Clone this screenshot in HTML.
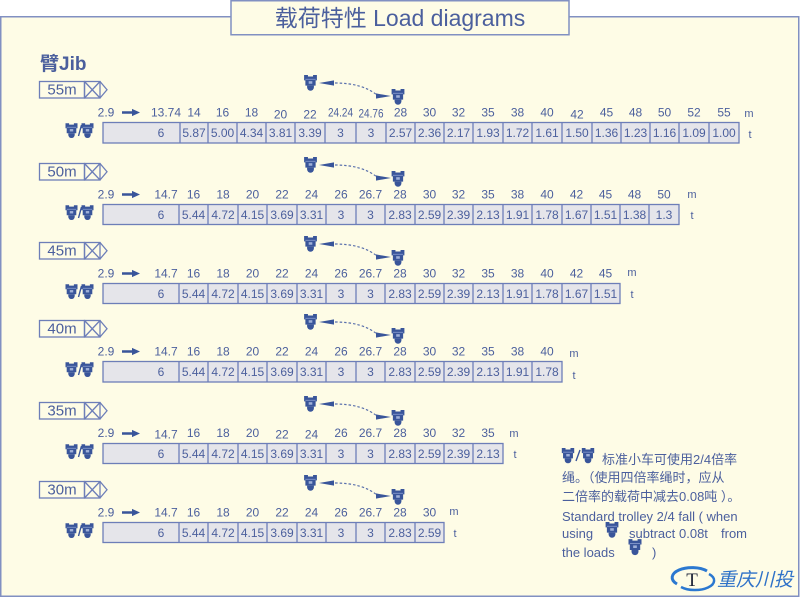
<!DOCTYPE html>
<html><head><meta charset="utf-8"><style>
html,body{margin:0;padding:0;background:#fff;width:800px;height:598px;overflow:hidden}
svg{display:block}
text{font-family:"Liberation Sans","Noto Sans CJK SC",sans-serif;fill:#4b5f9d}
.c{font-size:12px;text-anchor:middle}
.s{font-size:11px;text-anchor:middle}
.j{font-size:15px;text-anchor:middle}
.ln{fill:none;stroke:#6d7eb8;stroke-width:1.3}
.cell{fill:#e5e5ea;stroke:#6d7eb8;stroke-width:1.3}
.ic{fill:#39559a}
.ds{fill:none;stroke:#5a70ac;stroke-width:1.2;stroke-dasharray:2.5 2}
.cn{font-size:13px}
</style></head><body>
<svg width="800" height="598" viewBox="0 0 800 598" xmlns="http://www.w3.org/2000/svg">
<defs>
<symbol id="tr" viewBox="0 0 12 15">
<path fill="#39559a" d="M0,0h3.6v1.4h4.8V0H12v5H10.8V10H1.2V5H0z"/>
<path fill="#39559a" d="M2.8,10h6.4v1.6a3.2,3.2 0 0 1-6.4,0z"/>
<rect x="4.3" y="5.8" width="3.4" height="2.4" fill="#9fb0d8"/>
<rect x="1.2" y="3.6" width="9.6" height="0.9" fill="#7f93c8"/>
</symbol>
<g id="trl">
<use href="#tr" x="304" y="-47" width="13" height="16"/>
<polygon class="ic" points="319,-39 334,-41.6 334,-36.4"/>
<path class="ds" d="M335,-39 Q362,-39 377,-27"/>
<polygon class="ic" points="391,-26 376,-28.6 376,-23.4"/>
<use href="#tr" x="391.5" y="-33" width="13" height="16"/>
</g>
<g id="dbl">
<use href="#tr" x="65.5" y="1" width="12" height="15.5"/>
<line x1="78.5" y1="14" x2="81.5" y2="3" stroke="#39559a" stroke-width="1.4"/>
<use href="#tr" x="81.5" y="1" width="12" height="15.5"/>
</g>
<g id="jb">
<rect class="ln" x="84.5" y="-40.5" width="15.5" height="16.5"/>
<path class="ln" d="M84.5,-40.5L100,-24M84.5,-24L100,-40.5"/>
<polyline class="ln" points="100,-40.5 107,-32.25 100,-24"/>
<rect class="ln" x="39.5" y="-40.5" width="45" height="16.5"/>
</g>
<path id="arr" class="ic" d="M122,-10.7h10v-2.4l8,3.6l-8,3.6v-2.4h-10z"/>
</defs>

<!-- panel -->
<rect x="0.75" y="16.75" width="798" height="579.5" fill="#fefce6" stroke="#8190c2" stroke-width="1.5"/>
<rect x="231" y="0.75" width="338" height="34" fill="#fefce6" stroke="#8190c2" stroke-width="1.5"/>
<text x="400" y="26" font-size="23" text-anchor="middle">载荷特性 Load diagrams</text>
<text x="40" y="70" font-size="19" font-weight="bold">臂Jib</text>

<!-- 55m -->
<g transform="translate(0,122)">
<use href="#jb"/><text class="j" x="62" y="-27.5">55m</text>
<use href="#trl"/>
<use href="#arr"/>
<use href="#dbl"/>
<text class="c" y="-5.5"><tspan x="106" y="-5.5">2.9</tspan><tspan x="166" y="-5.5">13.74</tspan><tspan x="194" y="-5.5">14</tspan><tspan x="222.5" y="-5.5">16</tspan><tspan x="251.5" y="-5.5">18</tspan><tspan x="280.5" y="-3.5">20</tspan><tspan x="310" y="-3.5">22</tspan></text>
<text class="c" x="340.5" y="-5.5" textLength="25" lengthAdjust="spacingAndGlyphs">24.24</text>
<text class="c" x="371" y="-4.5" textLength="25" lengthAdjust="spacingAndGlyphs">24.76</text>
<text class="c" y="-5.5"><tspan x="400.5" y="-5.5">28</tspan><tspan x="429.5" y="-5.5">30</tspan><tspan x="458.5" y="-5.5">32</tspan><tspan x="488" y="-5.5">35</tspan><tspan x="517.5" y="-5.5">38</tspan><tspan x="547" y="-5.5">40</tspan><tspan x="577" y="-3.5">42</tspan><tspan x="606.5" y="-5.5">45</tspan><tspan x="635.5" y="-5.5">48</tspan><tspan x="664.5" y="-5.5">50</tspan><tspan x="694" y="-5.5">52</tspan><tspan x="724" y="-5.5">55</tspan></text>
<text class="s" x="749" y="-5">m</text>
<rect class="cell" x="103" y="0.5" width="636" height="20.5"/>
<path class="ln" d="M180,.5v20.5M208,.5v20.5M237,.5v20.5M266,.5v20.5M295,.5v20.5M325,.5v20.5M356,.5v20.5M386,.5v20.5M415,.5v20.5M444,.5v20.5M473,.5v20.5M503,.5v20.5M532,.5v20.5M562,.5v20.5M592,.5v20.5M621,.5v20.5M650,.5v20.5M679,.5v20.5M709,.5v20.5"/>
<text class="c" y="15"><tspan x="161">6</tspan><tspan x="194">5.87</tspan><tspan x="222.5">5.00</tspan><tspan x="251.5">4.34</tspan><tspan x="280.5">3.81</tspan><tspan x="310">3.39</tspan><tspan x="340.5">3</tspan><tspan x="371">3</tspan><tspan x="400.5">2.57</tspan><tspan x="429.5">2.36</tspan><tspan x="458.5">2.17</tspan><tspan x="488">1.93</tspan><tspan x="517.5">1.72</tspan><tspan x="547">1.61</tspan><tspan x="577">1.50</tspan><tspan x="606.5">1.36</tspan><tspan x="635.5">1.23</tspan><tspan x="664.5">1.16</tspan><tspan x="694">1.09</tspan><tspan x="724">1.00</tspan></text>
<text class="s" x="750" y="16">t</text>
</g>

<!-- 50m -->
<g transform="translate(0,204)">
<use href="#jb"/><text class="j" x="62" y="-27.5">50m</text>
<use href="#trl"/>
<use href="#arr"/>
<use href="#dbl"/>
<text class="c" y="-5.5"><tspan x="106">2.9</tspan><tspan x="166">14.7</tspan><tspan x="193.5">16</tspan><tspan x="223">18</tspan><tspan x="252.5">20</tspan><tspan x="282">22</tspan><tspan x="311.5">24</tspan><tspan x="341">26</tspan><tspan x="370.5">26.7</tspan><tspan x="400">28</tspan><tspan x="429.5">30</tspan><tspan x="458.5">32</tspan><tspan x="488">35</tspan><tspan x="517.5">38</tspan><tspan x="547">40</tspan><tspan x="576.5">42</tspan><tspan x="605.5">45</tspan><tspan x="634.5">48</tspan><tspan x="664">50</tspan></text>
<text class="s" x="692" y="-6">m</text>
<rect class="cell" x="103" y="0.5" width="576" height="20"/>
<path class="ln" d="M179,.5v20M208,.5v20M238,.5v20M267,.5v20M297,.5v20M326,.5v20M356,.5v20M385,.5v20M415,.5v20M444,.5v20M473,.5v20M503,.5v20M532,.5v20M562,.5v20M591,.5v20M620,.5v20M649,.5v20"/>
<text class="c" y="14.8"><tspan x="161">6</tspan><tspan x="193.5">5.44</tspan><tspan x="223">4.72</tspan><tspan x="252.5">4.15</tspan><tspan x="282">3.69</tspan><tspan x="311.5">3.31</tspan><tspan x="341">3</tspan><tspan x="370.5">3</tspan><tspan x="400">2.83</tspan><tspan x="429.5">2.59</tspan><tspan x="458.5">2.39</tspan><tspan x="488">2.13</tspan><tspan x="517.5">1.91</tspan><tspan x="547">1.78</tspan><tspan x="576.5">1.67</tspan><tspan x="605.5">1.51</tspan><tspan x="634.5">1.38</tspan><tspan x="664">1.3</tspan></text>
<text class="s" x="692" y="15">t</text>
</g>

<!-- 45m -->
<g transform="translate(0,283)">
<use href="#jb"/><text class="j" x="62" y="-27.5">45m</text>
<use href="#trl"/>
<use href="#arr"/>
<use href="#dbl"/>
<text class="c" y="-5.5"><tspan x="106">2.9</tspan><tspan x="166">14.7</tspan><tspan x="193.5">16</tspan><tspan x="223">18</tspan><tspan x="252.5">20</tspan><tspan x="282">22</tspan><tspan x="311.5">24</tspan><tspan x="341">26</tspan><tspan x="370.5">26.7</tspan><tspan x="400">28</tspan><tspan x="429.5">30</tspan><tspan x="458.5">32</tspan><tspan x="488">35</tspan><tspan x="517.5">38</tspan><tspan x="547">40</tspan><tspan x="576.5">42</tspan><tspan x="605.5">45</tspan></text>
<text class="s" x="632" y="-7">m</text>
<rect class="cell" x="103" y="0.5" width="517" height="20"/>
<path class="ln" d="M179,.5v20M208,.5v20M238,.5v20M267,.5v20M297,.5v20M326,.5v20M356,.5v20M385,.5v20M415,.5v20M444,.5v20M473,.5v20M503,.5v20M532,.5v20M562,.5v20M591,.5v20"/>
<text class="c" y="14.8"><tspan x="161">6</tspan><tspan x="193.5">5.44</tspan><tspan x="223">4.72</tspan><tspan x="252.5">4.15</tspan><tspan x="282">3.69</tspan><tspan x="311.5">3.31</tspan><tspan x="341">3</tspan><tspan x="370.5">3</tspan><tspan x="400">2.83</tspan><tspan x="429.5">2.59</tspan><tspan x="458.5">2.39</tspan><tspan x="488">2.13</tspan><tspan x="517.5">1.91</tspan><tspan x="547">1.78</tspan><tspan x="576.5">1.67</tspan><tspan x="605.5">1.51</tspan></text>
<text class="s" x="632" y="15">t</text>
</g>

<!-- 40m -->
<g transform="translate(0,361)">
<use href="#jb"/><text class="j" x="62" y="-27.5">40m</text>
<use href="#trl"/>
<use href="#arr"/>
<use href="#dbl"/>
<text class="c" y="-5.5"><tspan x="106">2.9</tspan><tspan x="166">14.7</tspan><tspan x="193.5">16</tspan><tspan x="223">18</tspan><tspan x="252.5">20</tspan><tspan x="282">22</tspan><tspan x="311.5">24</tspan><tspan x="341">26</tspan><tspan x="370.5">26.7</tspan><tspan x="400">28</tspan><tspan x="429.5">30</tspan><tspan x="458.5">32</tspan><tspan x="488">35</tspan><tspan x="517.5">38</tspan><tspan x="547">40</tspan></text>
<text class="s" x="574" y="-4">m</text>
<rect class="cell" x="103" y="0.5" width="459" height="20.5"/>
<path class="ln" d="M179,.5v20.5M208,.5v20.5M238,.5v20.5M267,.5v20.5M297,.5v20.5M326,.5v20.5M356,.5v20.5M385,.5v20.5M415,.5v20.5M444,.5v20.5M473,.5v20.5M503,.5v20.5M532,.5v20.5"/>
<text class="c" y="15"><tspan x="161">6</tspan><tspan x="193.5">5.44</tspan><tspan x="223">4.72</tspan><tspan x="252.5">4.15</tspan><tspan x="282">3.69</tspan><tspan x="311.5">3.31</tspan><tspan x="341">3</tspan><tspan x="370.5">3</tspan><tspan x="400">2.83</tspan><tspan x="429.5">2.59</tspan><tspan x="458.5">2.39</tspan><tspan x="488">2.13</tspan><tspan x="517.5">1.91</tspan><tspan x="547">1.78</tspan></text>
<text class="s" x="574" y="18">t</text>
</g>

<!-- 35m -->
<g transform="translate(0,443)">
<use href="#jb"/><text class="j" x="62" y="-27.5">35m</text>
<use href="#trl"/>
<use href="#arr"/>
<use href="#dbl"/>
<text class="c" y="-5.5"><tspan x="106" y="-6">2.9</tspan><tspan x="166" y="-4.5">14.7</tspan><tspan x="193.5" y="-6">16</tspan><tspan x="223" y="-6">18</tspan><tspan x="252.5" y="-6">20</tspan><tspan x="282" y="-4.5">22</tspan><tspan x="311.5" y="-4.5">24</tspan><tspan x="341" y="-6">26</tspan><tspan x="370.5" y="-6">26.7</tspan><tspan x="400" y="-6">28</tspan><tspan x="429.5" y="-6">30</tspan><tspan x="458.5" y="-6">32</tspan><tspan x="488" y="-6">35</tspan></text>
<text class="s" x="514" y="-6">m</text>
<rect class="cell" x="103" y="0.5" width="400" height="20"/>
<path class="ln" d="M179,.5v20M208,.5v20M238,.5v20M267,.5v20M297,.5v20M326,.5v20M356,.5v20M385,.5v20M415,.5v20M444,.5v20M473,.5v20"/>
<text class="c" y="14.8"><tspan x="161">6</tspan><tspan x="193.5">5.44</tspan><tspan x="223">4.72</tspan><tspan x="252.5">4.15</tspan><tspan x="282">3.69</tspan><tspan x="311.5">3.31</tspan><tspan x="341">3</tspan><tspan x="370.5">3</tspan><tspan x="400">2.83</tspan><tspan x="429.5">2.59</tspan><tspan x="458.5">2.39</tspan><tspan x="488">2.13</tspan></text>
<text class="s" x="515" y="15">t</text>
</g>

<!-- 30m -->
<g transform="translate(0,522)">
<use href="#jb"/><text class="j" x="62" y="-27.5">30m</text>
<use href="#trl"/>
<use href="#arr"/>
<use href="#dbl"/>
<text class="c" y="-5.5"><tspan x="106">2.9</tspan><tspan x="166">14.7</tspan><tspan x="193.5">16</tspan><tspan x="223">18</tspan><tspan x="252.5">20</tspan><tspan x="282">22</tspan><tspan x="311.5">24</tspan><tspan x="341">26</tspan><tspan x="370.5">26.7</tspan><tspan x="400">28</tspan><tspan x="429.5">30</tspan></text>
<text class="s" x="454" y="-7">m</text>
<rect class="cell" x="103" y="0.5" width="341" height="20"/>
<path class="ln" d="M179,.5v20M208,.5v20M238,.5v20M267,.5v20M297,.5v20M326,.5v20M356,.5v20M385,.5v20M415,.5v20"/>
<text class="c" y="14.8"><tspan x="161">6</tspan><tspan x="193.5">5.44</tspan><tspan x="223">4.72</tspan><tspan x="252.5">4.15</tspan><tspan x="282">3.69</tspan><tspan x="311.5">3.31</tspan><tspan x="341">3</tspan><tspan x="370.5">3</tspan><tspan x="400">2.83</tspan><tspan x="429.5">2.59</tspan></text>
<text class="s" x="455" y="15">t</text>
</g>

<!-- note block -->
<use href="#tr" x="561.5" y="448" width="13" height="15.5"/>
<line x1="576" y1="461" x2="580" y2="450" stroke="#39559a" stroke-width="1.4"/>
<use href="#tr" x="581.5" y="448" width="13" height="15.5"/>
<text class="cn" x="602" y="464">标准小车可使用2/4倍率</text>
<text class="cn" x="562" y="482">绳。（使用四倍率绳时，应从</text>
<text class="cn" x="562" y="501">二倍率的载荷中减去0.08吨 ）。</text>
<text class="cn" x="562" y="521">Standard trolley 2/4 fall ( when</text>
<text class="cn" x="562" y="538">using</text>
<text class="cn" x="629" y="538">subtract</text>
<text class="cn" x="679" y="538">0.08t</text>
<text class="cn" x="721" y="538">from</text>
<use href="#tr" x="605.5" y="522" width="13" height="16"/>
<text class="cn" x="562" y="557">the loads</text>
<text class="cn" x="652" y="557">)</text>
<use href="#tr" x="628.5" y="539" width="13" height="16.5"/>

<!-- logo -->
<path d="M677,584 A17,8.5 0 0 1 707,571" fill="none" stroke="#2b78d0" stroke-width="3"/>
<path d="M709,574 A17,8.5 0 0 1 681,587" fill="none" stroke="#2b78d0" stroke-width="2.5"/>
<text x="692" y="586" font-size="19" text-anchor="middle" style="fill:#1c2236;font-family:'Liberation Serif',serif">T</text>
<text x="717" y="586" font-size="19" font-style="italic" style="fill:#2f72c8">重庆川投</text>
</svg>
</body></html>
